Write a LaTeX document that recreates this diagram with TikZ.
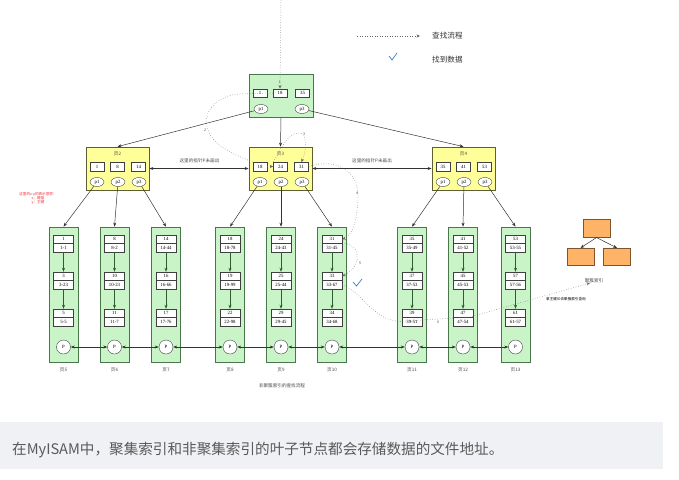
\documentclass[tikz,border=0pt]{standalone}
\usepackage{fontspec}
\setmainfont{Noto Sans CJK SC}
\newfontfamily\numfont{Liberation Serif}
\usetikzlibrary{arrows.meta,shapes.geometric}
\definecolor{gfill}{HTML}{C8F4C8}
\definecolor{gdraw}{HTML}{4A774A}
\definecolor{gdark}{HTML}{2E5E2E}
\definecolor{yfill}{HTML}{FFFF99}
\definecolor{ydraw}{HTML}{5E5E33}
\definecolor{ofill}{HTML}{FFB366}
\definecolor{odraw}{HTML}{7A5530}
\definecolor{capbg}{HTML}{F0F1F4}
\definecolor{captext}{HTML}{5A5A5A}
\definecolor{chk}{HTML}{3A7BD5}
\definecolor{redt}{HTML}{F0303A}
\newcommand\keyfont{\numfont\fontsize{4.8}{5}\selectfont}
\tikzset{
 rootbox/.style={draw=gdraw, fill=gfill, line width=0.7pt, inner sep=0, minimum width=64pt, minimum height=43pt},
 leafbox/.style={draw=gdraw, fill=gfill, line width=0.7pt, inner sep=0, minimum width=29pt, minimum height=135pt},
 yellowbox/.style={draw=ydraw, fill=yfill, line width=0.7pt, inner sep=0, minimum width=63pt, minimum height=43pt},
 orangebox/.style={draw=odraw, fill=ofill, line width=0.6pt, inner sep=0, minimum width=27pt, minimum height=17.5pt},
 keybox/.style={draw=black!75, fill=white, line width=0.4pt, inner sep=0, minimum width=14pt, minimum height=8.5pt, font=\keyfont},
 recbox/.style={draw=black!75, fill=white, line width=0.4pt, inner sep=0, minimum width=20pt, minimum height=8.5pt, font=\keyfont},
 ptrell/.style={ellipse, draw=black!75, fill=white, line width=0.4pt, inner sep=0, minimum width=14pt, minimum height=9pt, font=\keyfont},
 pcirc/.style={circle, draw=black!75, fill=white, line width=0.4pt, inner sep=0, minimum size=14pt, font=\keyfont},
 treearr/.style={draw=black!80, line width=0.5pt, -{Stealth[length=4pt,width=3pt]}},
 botharr/.style={draw=black!80, line width=0.5pt, {Stealth[length=4pt,width=3pt]}-{Stealth[length=4pt,width=3pt]}},
 recarr/.style={draw=gdark, line width=0.6pt, -{Stealth[length=4pt,width=3pt]}},
 search/.style={draw=black!60, dotted, line width=0.5pt, -{Stealth[length=3.5pt,width=3pt]}},
 searchline/.style={draw=black!60, dotted, line width=0.5pt},
 small/.style={font=\fontsize{4.6}{5}\selectfont, text=black!70, inner sep=0.5pt},
 tiny/.style={font=\fontsize{3.6}{4.2}\selectfont, inner sep=0.5pt},
 legend/.style={font=\fontsize{7.6}{9}\selectfont, text=black!80, anchor=west, inner sep=0},
}
\begin{document}
\begin{tikzpicture}[x=1pt,y=-1pt]
\useasboundingbox (0,0) rectangle (679,479);
\fill[white] (0,0) rectangle (679,479);
% caption band
\fill[capbg] (0,422) rectangle (663,469);
\node[anchor=west, text=captext, font=\fontsize{14.6}{16}\selectfont, inner sep=0] (cap) at (12,450) {在MyISAM中，聚集索引和非聚集索引的叶子节点都会存储数据的文件地址。};

% legend
\coordinate (lg1) at (357,36);
\coordinate (lg2) at (420,36);
\draw[search] (lg1) -- (lg2);
\node[legend] (lgt1) at (432,36) {查找流程};
\draw[chk, line width=0.7pt] (389,56) -- (392,60) -- (397,53);
\node[legend] (lgt2) at (432,60) {找到数据};

% root
\node[rootbox] (R) at (281,95.5) {};
\node[keybox] (rk1) at (260,93) {1};
\node[keybox] (rk2) at (280,93) {18};
\node[keybox] (rk3) at (302.5,93) {35};
\node[ptrell] (rp1) at (261,109) {p1};
\node[ptrell] (rp3) at (302,109) {p3};

% yellow nodes
\foreach \n/\x/\a/\b/\c in {2/117.5/1/8/14, 3/280.5/18/24/31, 4/463.5/35/41/53}{
 \node[yellowbox] (Y\n) at (\x,168.5) {};
 \node[small] (Y\n-lab) at (\x,153.5) {页\n};
 \node[keybox] (Y\n-k1) at (\x-20.5,166.5) {\a};
 \node[keybox] (Y\n-k2) at (\x,166.5) {\b};
 \node[keybox] (Y\n-k3) at (\x+21,166.5) {\c};
 \node[ptrell] (Y\n-p1) at (\x-20.5,182) {p1};
 \node[ptrell] (Y\n-p2) at (\x+0.5,182) {p2};
 \node[ptrell] (Y\n-p3) at (\x+21.5,182) {p3};
}

% leaves
\foreach \n/\x/\a/\aa/\b/\bb/\c/\cc in {5/63.5/1/1-1/3/3-23/5/5-5, 6/114.5/8/8-2/10/10-23/11/11-7, 7/166/14/14-44/16/16-66/17/17-76, 8/230/18/18-78/19/19-99/22/22-98, 9/281/24/24-43/25/25-44/29/29-45, 10/332/31/31-45/33/33-67/34/34-68, 11/412/35/35-49/37/37-53/39/39-51, 12/463/41/41-52/45/45-53/47/47-54, 13/515.5/53/53-55/57/57-56/61/61-57}{
 \node[leafbox] (L\n) at (\x,294.5) {};
 \node[recbox] (L\n-k1) at (\x,239.25) {\a};
 \node[recbox] (L\n-v1) at (\x,247.75) {\aa};
 \node[recbox] (L\n-k2) at (\x,276.25) {\b};
 \node[recbox] (L\n-v2) at (\x,284.75) {\bb};
 \node[recbox] (L\n-k3) at (\x,313.25) {\c};
 \node[recbox] (L\n-v3) at (\x,321.75) {\cc};
 \draw[recarr] (L\n-v1) -- (L\n-k2);
 \draw[recarr] (L\n-v2) -- (L\n-k3);
 \node[pcirc] (L\n-p) at (\x,347) {P};
 \node[small] (L\n-lab) at (\x,370) {页\n};
}

% P chain
\foreach \a/\b in {5/6,6/7,7/8,8/9,9/10,10/11,11/12,12/13}{
 \draw[botharr] (L\a-p) -- (L\b-p);
}

% tree edges
\draw[treearr] (rp1) -- (Y2.north);
\draw[treearr] (R.south) -- (Y3.north);
\draw[treearr] (rp3) -- (Y4.north);
\draw[treearr] (Y2-p1) -- (L5.north);
\draw[treearr] (Y2-p2) -- (L6.north);
\draw[treearr] (Y2-p3) -- (L7.north);
\draw[treearr] (Y3-p1) -- (L8.north);
\draw[treearr] (Y3-p2) -- (L9.north);
\draw[treearr] (Y3-p3) -- (L10.north);
\draw[treearr] (Y4-p1) -- (L11.north);
\draw[treearr] (Y4-p2) -- (L12.north);
\draw[treearr] (Y4-p3) -- (L13.north);

% sibling arrows between yellow nodes
\draw[botharr] (Y2.east) -- (Y3.west);
\draw[botharr] (Y3.east) -- (Y4.west);
\node[small] (t23) at (199.5,161) {这里的指针P未画出};
\node[small] (t34) at (372,161) {这里的指针P未画出};

% red note
\node[tiny, text=redt, align=center] (note) at (38,198.5) {这里的x-y的表示意思：\\x：键值\\y：主键};

% bottom label
\node[small] (blab) at (282,386) {非聚簇索引的查找流程};

% clustered index sketch
\node[orangebox] (O1) at (596.5,228.5) {};
\node[orangebox] (O2) at (580.5,257) {};
\node[orangebox] (O3) at (617,257) {};
\draw[treearr] (O1.south) -- (O2.north);
\draw[treearr] (O1.south) -- (O3.north);
\node[small] (idx) at (594,281) {聚簇索引};
\node[tiny] (idxq) at (566,299) {拿主键ID去聚簇索引查询};

% search path
\coordinate (s0) at (281,0);
\draw[search] (s0) -- (rk2.north);
\node[tiny, text=black!70] (n1) at (279.5,82) {1};
\draw[searchline] (rk2.west) -- (238,94) .. controls (205,98) and (195,128) .. (222,147) .. controls (234,155) and (243,158) .. (Y3-k1.north west);
\draw[search] (Y3-k1.east) -- (Y3-k2.west);
\node[tiny, text=black!70] (n2) at (205,130) {2};
\draw[search] (Y3-k2.north west) .. controls (283,145) and (288,134) .. (298,133) .. controls (306,132) and (308,145) .. (Y3-k3.north);
\node[tiny, text=black!70] (n3) at (304,134) {3};
\draw[search] (Y3-k3.east) .. controls (335,158) and (358,170) .. (358,195) .. controls (358,220) and (352,236) .. (L10-k1.east);
\node[tiny, text=black!70] (n4) at (357,193) {4};
\draw[search] (L10-v1.north east) .. controls (360,243) and (364,265) .. (L10-k2.east);
\node[tiny, text=black!70] (n5) at (360,263) {5};
\draw[chk, line width=0.7pt] (353,282) -- (356.5,286) -- (362,279);
\coordinate (c6a) at (400,321.5);
\coordinate (c6b) at (470,317);
\coordinate (c6e) at (590,283);
\draw[search] (L10-v2.east) .. controls (364,293) and (372,320) .. (c6a) -- (c6b) -- (c6e);
\node[tiny, text=black!70] (n6) at (438,322.5) {6};
\end{tikzpicture}
\end{document}
